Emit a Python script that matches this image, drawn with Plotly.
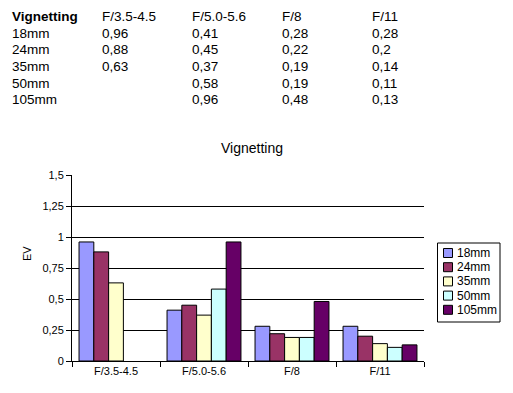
import plotly.graph_objects as go

categories = ["F/3.5-4.5", "F/5.0-5.6", "F/8", "F/11"]
series_names = ["18mm", "24mm", "35mm", "50mm", "105mm"]
v18 = [0.96, 0.41, 0.28, 0.28]
v24 = [0.88, 0.45, 0.22, 0.2]
v35 = [0.63, 0.37, 0.19, 0.14]
v50 = [None, 0.58, 0.19, 0.11]
v105 = [None, 0.96, 0.48, 0.13]
series_values = [v18, v24, v35, v50, v105]
colors = ["#9999FF", "#993366", "#FFFFCC", "#CCFFFF", "#660066"]
y_ticks = [0, 0.25, 0.5, 0.75, 1, 1.25, 1.5]

W, H = 513, 393
L, R, T, B = 72, 424, 175, 361

fig = go.Figure()
for name, vals, c in zip(series_names, series_values, colors):
    fig.add_trace(go.Bar(x=categories, y=vals, name=name, marker=dict(color=c, line=dict(color="black", width=1))))

def px(x):
    return (x - L) / (R - L)

def py(y):
    return (B - y) / (B - T)

def fmt(v):
    if v is None:
        return ""
    s = ("%g" % v).replace(".", ",")
    return s

font = "Liberation Sans, Arial, sans-serif"
anns = []
shapes = []
col_x = [10, 100, 190, 280, 370]
row_y = [16, 33, 49.5, 66, 83, 99.5]
header = ["Vignetting"] + categories
for j, h in enumerate(header):
    anns.append(dict(text=("<b>%s</b>" % h) if j == 0 else h, x=px(col_x[j]), y=py(row_y[0]),
                     xref="paper", yref="paper", xanchor="left", yanchor="middle",
                     showarrow=False, font=dict(size=13.5, color="black", family=font)))
for i, (name, vals) in enumerate(zip(series_names, series_values)):
    cells = [name] + [fmt(v) for v in vals]
    for j, t in enumerate(cells):
        anns.append(dict(text=t, x=px(col_x[j]), y=py(row_y[i + 1]),
                         xref="paper", yref="paper", xanchor="left", yanchor="middle",
                         showarrow=False, font=dict(size=13.5, color="black", family=font)))
anns.append(dict(text="Vignetting", x=px(252), y=py(148), xref="paper", yref="paper",
                 xanchor="center", yanchor="middle", showarrow=False,
                 font=dict(size=14, color="black", family=font)))
anns.append(dict(text="EV", x=px(27), y=py(254), xref="paper", yref="paper",
                 xanchor="center", yanchor="middle", showarrow=False, textangle=-90,
                 font=dict(size=11, color="black", family=font)))

# legend (drawn manually to match the compact box)
lx0, lx1, ly0, ly1 = 437.5, 500, 243, 322
shapes.append(dict(type="rect", xref="paper", yref="paper", x0=px(lx0), x1=px(lx1),
                   y0=py(ly1), y1=py(ly0), line=dict(color="black", width=1), fillcolor="white"))
for i, (name, c) in enumerate(zip(series_names, colors)):
    cy = 253 + i * 14.2
    shapes.append(dict(type="rect", xref="paper", yref="paper", x0=px(443.5), x1=px(452.5),
                       y0=py(cy + 4.5), y1=py(cy - 4.5), line=dict(color="black", width=1), fillcolor=c))
    anns.append(dict(text=name, x=px(455), y=py(cy), xref="paper", yref="paper",
                     xanchor="left", yanchor="middle", showarrow=False,
                     font=dict(size=12, color="black", family=font)))

fig.update_layout(
    width=W, height=H,
    margin=dict(l=L, r=W - R, t=T, b=H - B, pad=0, autoexpand=False),
    paper_bgcolor="white", plot_bgcolor="white",
    separators=",.",
    barmode="group", bargap=0.16, bargroupgap=0,
    font=dict(family=font, size=11, color="black"),
    annotations=anns,
    shapes=shapes,
    showlegend=False,
    xaxis=dict(type="category", showline=True, linecolor="black", linewidth=1,
               ticks="outside", tickson="boundaries", ticklen=5, tickcolor="black",
               showgrid=False, tickfont=dict(size=11)),
    yaxis=dict(range=[0, 1.5], tickvals=y_ticks, showline=True, linecolor="black", linewidth=1,
               ticks="outside", ticklen=5, tickcolor="black", showgrid=True, gridcolor="black",
               gridwidth=1, zeroline=False, tickfont=dict(size=11)),
)
fig.write_html("out.html", config={"displayModeBar": False},
               post_script="document.body.style.margin='0';")
